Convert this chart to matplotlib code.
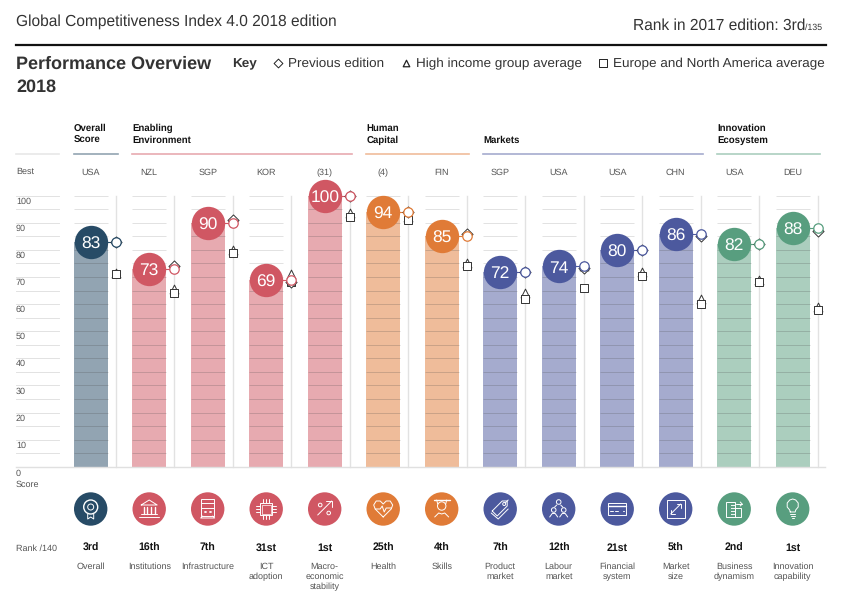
import matplotlib
matplotlib.use('Agg')
import matplotlib.pyplot as plt
from matplotlib.patches import Circle, Rectangle

plt.rcParams['font.family'] = ['Liberation Sans', 'DejaVu Sans']
plt.rcParams['text.hinting'] = 'no_hinting'
plt.rcParams['text.hinting_factor'] = 8

W, H = 865, 607

# data
labels = ['Overall', 'Institutions', 'Infrastructure', 'ICT\nadoption', 'Macro-\neconomic\nstability',
          'Health', 'Skills', 'Product\nmarket', 'Labour\nmarket', 'Financial\nsystem',
          'Market\nsize', 'Business\ndynamism', 'Innovation\ncapability']
best = ['USA', 'NZL', 'SGP', 'KOR', '(31)', '(4)', 'FIN', 'SGP', 'USA', 'USA', 'CHN', 'USA', 'DEU']
ranks = ['3rd', '16th', '7th', '31st', '1st', '25th', '4th', '7th', '12th', '21st', '5th', '2nd', '1st']
scores = [83, 73, 90, 69, 100, 94, 85, 72, 74, 80, 86, 82, 88]
previous = [83, 74, 91, 68, 100, 94, 86, 72, 73.5, 80, 85, 82, 87]
high_income = [71.5, 65.5, 80, 71, 93.5, 92, 75, 64, 74, 72, 62, 69, 59]
europe = [71, 64, 79, 68, 92.3, 91, 74, 62, 66, 70.5, 60, 68, 58]
groups = ['Overall\nScore', 'Enabling\nEnvironment', 'Human\nCapital', 'Markets', 'Innovation\nEcosystem']
group_start = [0, 1, 5, 7, 11]
group_end = [0, 4, 6, 10, 12]
group_colors = ['#274b66', '#d05763', '#e07b37', '#4c599e', '#589e7f']
colors = ['#274b66'] + ['#d05763'] * 4 + ['#e07b37'] * 2 + ['#4c599e'] * 4 + ['#589e7f'] * 2
yticks = list(range(0, 101, 10))

X0, DX = 90.7, 58.5
Y0, DY = 466.7, 2.71

fig = plt.figure(figsize=(W / 100, H / 100), dpi=100)
ax = fig.add_axes([0, 0, 1, 1])
ax.set_xlim((0 - X0) / DX, (W - X0) / DX)
ax.set_ylim((Y0 - H) / DY, Y0 / DY)
ax.axis('off')

# second axes in pixels for the page furniture and icons
pix = fig.add_axes([0, 0, 1, 1], zorder=5)
pix.set_xlim(0, W)
pix.set_ylim(H, 0)
pix.axis('off')
pix.patch.set_alpha(0)

BARW = 33.6 / DX
SIDE = 25 / DX
idx = list(range(len(scores)))

for i in idx:
    c = colors[i]
    ax.bar(i, scores[i], width=BARW, color=c, alpha=0.5, linewidth=0, zorder=2)
    for g in range(0, 101, 5):
        on_bar = g <= scores[i]
        ax.plot([i - BARW / 2, i + BARW / 2], [g, g], color='#444444' if on_bar else '#e2e2e2',
                alpha=0.22 if on_bar else 1, lw=0.7, zorder=3, solid_capstyle='butt')
    ax.plot([i + SIDE, i + SIDE], [0, 100], color='#e2e2e2', lw=1.0, zorder=1)
    ax.plot([i, i + SIDE], [scores[i], scores[i]], color=c, lw=0.8, zorder=4)
    ax.scatter(i + SIDE, high_income[i], marker='^', s=40, facecolor='white', edgecolor='#333333', lw=0.7, zorder=5)
    ax.scatter(i + SIDE, europe[i], marker='s', s=28, facecolor='white', edgecolor='#333333', lw=0.7, zorder=6)
    ax.scatter(i + SIDE, previous[i], marker='D', s=32, facecolor='white', edgecolor='#333333', lw=0.7, zorder=7)
    ax.scatter(i + SIDE, scores[i], marker='o', s=46, facecolor='white', edgecolor=c, lw=0.9, zorder=8)
    ax.scatter(i, scores[i], marker='o', s=577, color=c, linewidth=0, zorder=9)
    ax.text(i, scores[i] - 0.2, str(scores[i]), color='white', fontsize=12.5, ha='center', va='center_baseline', zorder=10)

# left scale
for g in range(0, 101, 5):
    ax.plot([(16 - X0) / DX, (59 - X0) / DX], [g, g], color='#e2e2e2', lw=0.7, zorder=1)
for t in yticks:
    ax.text((16 - X0) / DX, t - 2.1 if t else -2.4, str(t), fontsize=6.5, color='#555555', ha='left', va='center')
ax.plot([(16 - X0) / DX, (825 - X0) / DX], [0, 0], color='#e0e0e0', lw=1.0, zorder=4)

# header
pix.text(16, 22, 'Global Competitiveness Index 4.0 2018 edition', fontsize=11.2, color='#333333', va='center')
pix.text(805, 26, 'Rank in 2017 edition: 3rd', fontsize=11.2, color='#333333', va='center', ha='right')
pix.text(805, 28, '/135', fontsize=6.3, color='#333333', va='center', ha='left')
pix.plot([16, 826], [45, 45], color='#111111', lw=1.6)
pix.text(16, 64, 'Performance Overview', fontsize=13, fontweight='bold', color='#333333', va='center')
pix.text(16, 87, '2018', fontsize=13, fontweight='bold', color='#333333', va='center')
pix.text(232, 64, 'Key', fontsize=9.7, fontweight='bold', color='#333333', va='center')
pix.scatter(278, 63, marker='D', s=20, facecolor='white', edgecolor='#222222', lw=0.7)
pix.text(288, 64, 'Previous edition', fontsize=9.7, color='#333333', va='center')
pix.scatter(406, 63, marker='^', s=22, facecolor='white', edgecolor='#222222', lw=0.9)
pix.text(416, 64, 'High income group average', fontsize=9.7, color='#333333', va='center')
pix.scatter(603, 63, marker='s', s=28, facecolor='white', edgecolor='#222222', lw=0.7)
pix.text(613, 64, 'Europe and North America average', fontsize=9.7, color='#333333', va='center')

# group heads
pix.plot([16, 59], [153.5, 153.5], color='#e8e8e8', lw=1.2)
for g, s, e, c in zip(groups, group_start, group_end, group_colors):
    left = X0 + s * DX - 16.8
    right = X0 + e * DX + 27
    pix.plot([left, right], [153.5, 153.5], color=c, alpha=0.5, lw=1.2)
    pix.text(left, 140, g.split('\n')[-1], fontsize=6.9, fontweight='bold', color='#111111', va='center')
    if '\n' in g:
        pix.text(left, 128, g.split('\n')[0], fontsize=6.9, fontweight='bold', color='#111111', va='center')

pix.text(16, 172, 'Best', fontsize=6.5, color='#555555', va='center')
pix.text(16, 485, 'Score', fontsize=6.5, color='#555555', va='center')
pix.text(16, 551, 'Rank /140', fontsize=6.5, color='#555555', va='baseline')


# icons, drawn around the centre of each disc
def ln(cx, cy, pts, lw=0.7):
    pix.plot([cx + p[0] for p in pts], [cy + p[1] for p in pts], color='white', lw=lw, zorder=4,
             solid_capstyle='round', solid_joinstyle='round')


def ring(cx, cy, x, y, r, lw=0.7):
    pix.add_patch(Circle((cx + x, cy + y), r, fill=False, ec='white', lw=lw, zorder=4))


def box(cx, cy, x, y, w, h, lw=0.7):
    pix.add_patch(Rectangle((cx + x, cy + y), w, h, fill=False, ec='white', lw=lw, zorder=4))


def icon_overall(cx, cy):
    ring(cx, cy, 0, -2, 7, 1.0)
    ring(cx, cy, 0, -2, 3)
    ln(cx, cy, [(-3, 5), (-3, 10), (0, 8), (3, 10), (3, 5)])


def icon_institutions(cx, cy):
    ln(cx, cy, [(-8, -4), (0, -9), (8, -4), (-8, -4)])
    for x in (-5.5, -2, 2, 5.5):
        ln(cx, cy, [(x, -2.5), (x, 5)], 1.0)
    ln(cx, cy, [(-8, 5), (8, 5)])
    ln(cx, cy, [(-10, 8), (10, 8)])


def icon_infrastructure(cx, cy):
    box(cx, cy, -6.5, -10, 13, 17)
    ln(cx, cy, [(-6.5, -6), (6.5, -6)])
    ln(cx, cy, [(-6.5, -1), (6.5, -1)])
    ln(cx, cy, [(-3, 3), (-2.2, 3)], 1.3)
    ln(cx, cy, [(2.2, 3), (3, 3)], 1.3)
    ln(cx, cy, [(-5, 7), (-7, 9), (7, 9), (5, 7)])


def icon_ict(cx, cy):
    box(cx, cy, -6, -6, 12, 12)
    box(cx, cy, -4.5, -4.5, 9, 9, 0.5)
    for d in (-3, 0, 3):
        ln(cx, cy, [(d, -10), (d, -6)])
        ln(cx, cy, [(d, 6), (d, 10)])
        ln(cx, cy, [(-10, d), (-6, d)])
        ln(cx, cy, [(6, d), (10, d)])


def icon_macro(cx, cy):
    ln(cx, cy, [(-7, 6), (7, -8)])
    ln(cx, cy, [(1, -8), (7, -8), (7, -2)])
    ring(cx, cy, -4.5, -4, 1.8)
    ring(cx, cy, 4, 4, 1.8)


def icon_health(cx, cy):
    ln(cx, cy, [(0, 8), (-8, 0), (-9.5, -4), (-7, -8), (-3, -8), (0, -5), (3, -8), (7, -8), (9.5, -4), (8, 0), (0, 8)])
    ln(cx, cy, [(-8, 0), (-3, 0), (-1, -3), (1, 3), (3, -1), (8, -1)])


def icon_skills(cx, cy):
    ln(cx, cy, [(-8, -9), (8, -9)], 1.0)
    ln(cx, cy, [(-5, -9), (-4, -5)])
    ln(cx, cy, [(5, -9), (4, -5)])
    ring(cx, cy, 0, -3, 4.2)
    ln(cx, cy, [(-7, 8), (-3, 4), (0, 5), (3, 4), (7, 8)])


def icon_product(cx, cy):
    ln(cx, cy, [(-8, 2), (2, -8), (7, -8), (7, -3), (-3, 7), (-8, 2)])
    ln(cx, cy, [(-9, 4), (-2, 10), (8, 0)])
    ring(cx, cy, 4, -5, 1.5)
    ln(cx, cy, [(5, -6), (8, -9)])


def icon_labour(cx, cy):
    ring(cx, cy, 0, -7, 2.3)
    ring(cx, cy, -5, 1, 2.3)
    ring(cx, cy, 5, 1, 2.3)
    ln(cx, cy, [(-2, -4), (-4, -2)])
    ln(cx, cy, [(2, -4), (4, -2)])
    ln(cx, cy, [(-9, 8), (-6.5, 4.5), (-3.5, 4.5), (-1, 8)])
    ln(cx, cy, [(1, 8), (3.5, 4.5), (6.5, 4.5), (9, 8)])


def icon_financial(cx, cy):
    box(cx, cy, -9, -6, 18, 12)
    ln(cx, cy, [(-9, -3), (9, -3)], 1.0)
    ln(cx, cy, [(-7, 2), (-4, 2)])
    ln(cx, cy, [(-2.5, 2), (0.5, 2)])
    ln(cx, cy, [(6, 2), (7, 2)])


def icon_market(cx, cy):
    box(cx, cy, -9, -9, 18, 18)
    ln(cx, cy, [(-5, 5), (5, -5)])
    ln(cx, cy, [(1, -5), (5, -5), (5, -1)])
    ln(cx, cy, [(-5, 1), (-5, 5), (-1, 5)])


def icon_business(cx, cy):
    box(cx, cy, -8, -7, 9, 15)
    box(cx, cy, 1, -1, 6, 9)
    for x in (-5.5, -3, -0.8):
        for y in (-4, -1, 2, 5):
            ln(cx, cy, [(x, y), (x + 0.4, y)], 0.8)
    ln(cx, cy, [(2, -5), (8, -5)])
    ln(cx, cy, [(6, -7), (8, -5), (6, -3)])


def icon_innovation(cx, cy):
    ln(cx, cy, [(-2.5, 3), (-3, 1), (-5.5, -2), (-5.5, -6), (-3, -9), (0, -10), (3, -9), (5.5, -6), (5.5, -2), (3, 1), (2.5, 3), (-2.5, 3)])
    ln(cx, cy, [(-2.5, 5), (2.5, 5)])
    ln(cx, cy, [(-1.8, 7), (1.8, 7)])
    ln(cx, cy, [(-1, 9), (1, 9)])


icons = [icon_overall, icon_institutions, icon_infrastructure, icon_ict, icon_macro, icon_health, icon_skills,
         icon_product, icon_labour, icon_financial, icon_market, icon_business, icon_innovation]

for i in idx:
    x = X0 + i * DX
    pix.text(x, 175, best[i], fontsize=6.5, color='#555555', ha='center', va='baseline')
    pix.add_patch(Circle((x, 509), 16.7, color=colors[i], lw=0, zorder=3))
    icons[i](x, 509)
    pix.text(x, 551, ranks[i], fontsize=7.6, fontweight='bold', color='#111111', ha='center', va='baseline')
    pix.text(x, 562, labels[i], fontsize=6.5, color='#555555', ha='center', va='top', linespacing=1.3)

fig.savefig('out.png', dpi=100)
